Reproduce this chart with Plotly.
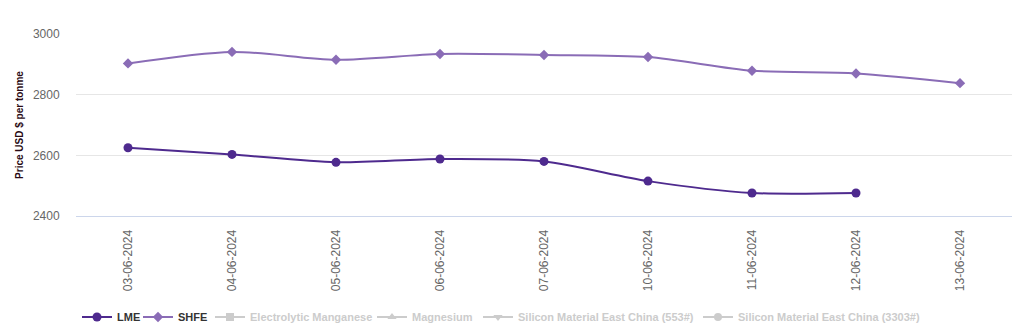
import plotly.graph_objects as go

dates = ["03-06-2024", "04-06-2024", "05-06-2024", "06-06-2024", "07-06-2024",
         "10-06-2024", "11-06-2024", "12-06-2024", "13-06-2024"]
lme = [2625, 2603, 2577, 2588, 2580, 2515, 2476, 2476, None]
shfe = [2903, 2941, 2915, 2934, 2931, 2924, 2879, 2870, 2838]

hidden_series = ["Electrolytic Manganese", "Magnesium",
                 "Silicon Material East China (553#)", "Silicon Material East China (3303#)"]
hidden_symbols = ["square", "triangle-up", "triangle-down", "circle"]

LME_COLOR = "#4e2a8e"
SHFE_COLOR = "#8a6cb6"
HIDDEN_COLOR = "#cccccc"
FONT = "Liberation Sans, Arial, sans-serif"

# plot area geometry in pixels (used to place the legend entries)
ML, MR, MT, MB = 76, 11, 34, 120
W, H = 1023, 336
PW = W - ML - MR
PH = H - MT - MB
LEGEND_TEXT_X = [117, 178, 250, 412, 518, 738]
LEGEND_Y = 317


def legend_box(text_x, color):
    return dict(
        orientation="h", xanchor="left", yanchor="middle",
        x=(text_x - 40 - ML) / PW, y=(H - MB - LEGEND_Y) / PH,
        font=dict(size=11, color=color, family=FONT, weight="bold"),
        itemwidth=30, bgcolor="rgba(0,0,0,0)",
    )


fig = go.Figure()
fig.add_trace(go.Scatter(
    x=dates, y=lme, name="LME", mode="lines+markers",
    line=dict(color=LME_COLOR, width=2, shape="spline", smoothing=0.8),
    marker=dict(symbol="circle", size=9, color=LME_COLOR),
    legend="legend",
))
fig.add_trace(go.Scatter(
    x=dates, y=shfe, name="SHFE", mode="lines+markers",
    line=dict(color=SHFE_COLOR, width=2, shape="spline", smoothing=0.8),
    marker=dict(symbol="diamond", size=8, color=SHFE_COLOR),
    legend="legend2",
))
# Series switched off: legend entries only, drawn in grey
for i, (name, sym) in enumerate(zip(hidden_series, hidden_symbols)):
    fig.add_trace(go.Scatter(
        x=[None], y=[None], name=name, mode="lines+markers",
        line=dict(color=HIDDEN_COLOR, width=2),
        marker=dict(symbol=sym, size=8, color=HIDDEN_COLOR),
        legend=f"legend{i + 3}",
    ))

legends = {"legend": legend_box(LEGEND_TEXT_X[0], "#333333"),
           "legend2": legend_box(LEGEND_TEXT_X[1], "#333333")}
for i in range(4):
    legends[f"legend{i + 3}"] = legend_box(LEGEND_TEXT_X[i + 2], HIDDEN_COLOR)

fig.update_layout(
    width=W, height=H,
    margin=dict(l=ML, r=MR, t=MT, b=MB, autoexpand=False),
    paper_bgcolor="white", plot_bgcolor="white",
    font=dict(family=FONT, color="#666666", size=12),
    showlegend=True,
    **legends,
    xaxis=dict(
        type="category", categoryorder="array", categoryarray=dates,
        range=[-0.5, 8.5],
        showgrid=False, showline=True, linecolor="#ccd6eb", linewidth=1,
        ticks="outside", ticklen=8, tickcolor="rgba(0,0,0,0)",
        tickangle=-90, tickfont=dict(size=12, color="#666666"),
        zeroline=False,
    ),
    yaxis=dict(
        range=[2400, 3000], tickvals=[2400, 2600, 2800, 3000],
        showgrid=True, gridcolor="#e6e6e6", gridwidth=1,
        zeroline=False, showline=False,
        ticks="outside", ticklen=13, tickcolor="rgba(0,0,0,0)",
        tickfont=dict(size=12, color="#666666"),
        title=dict(text="Price USD $ per tonme", standoff=7,
                   font=dict(size=10, color="#2a0a14", family=FONT, weight="bold")),
    ),
)

fig.write_html("out.html")
